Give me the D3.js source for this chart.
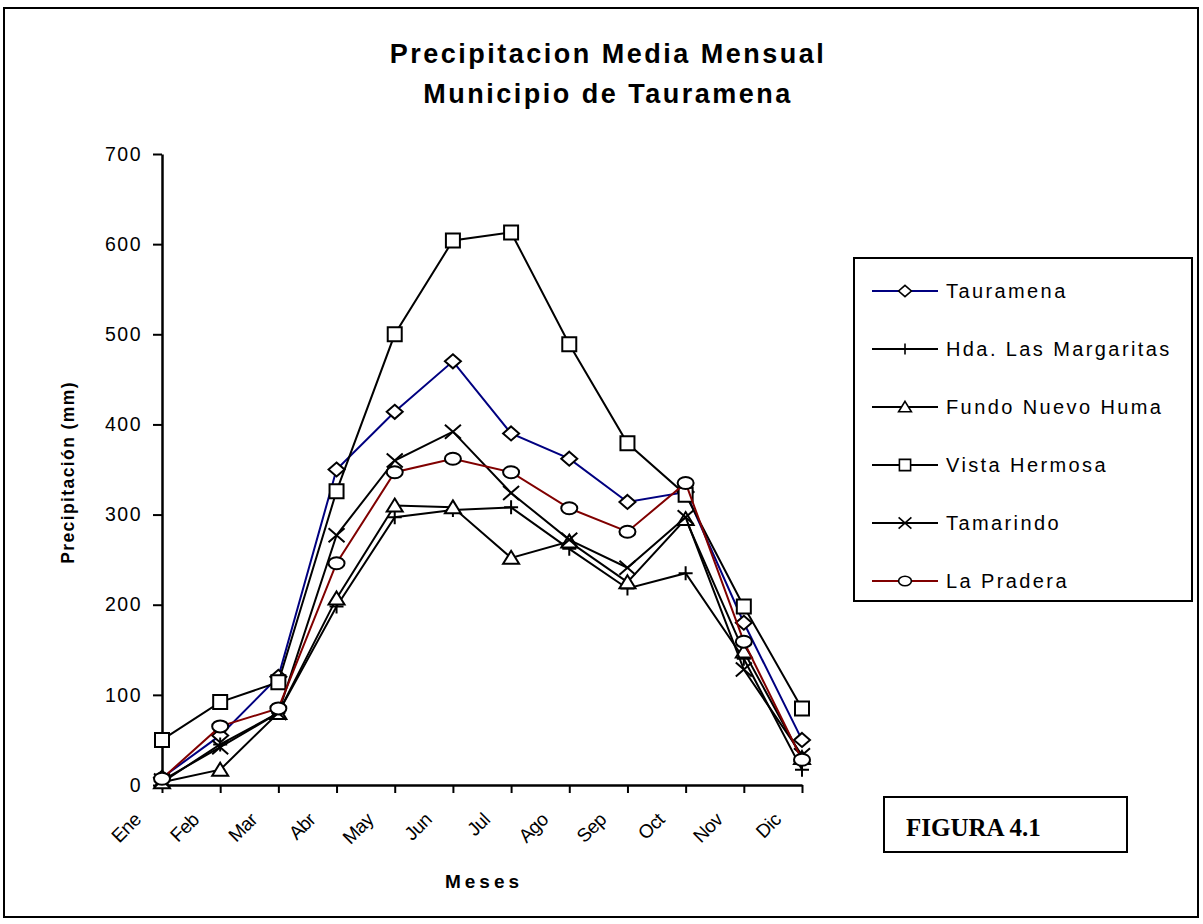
<!DOCTYPE html>
<html>
<head>
<meta charset="utf-8">
<script src="https://cdn.jsdelivr.net/npm/d3@7"></script>
<style>
  body { margin: 0; background: #fff; }
  svg { display: block; font-family: Arial, "Liberation Sans", sans-serif; }
</style>
</head>
<body>
<div id="chart"></div>
<script>
const months = ['Ene', 'Feb', 'Mar', 'Abr', 'May', 'Jun', 'Jul', 'Ago', 'Sep', 'Oct', 'Nov', 'Dic'];
const yTicks = [0, 100, 200, 300, 400, 500, 600, 700];

const tauramena = [8, 55, 120, 350, 414, 470, 390, 362, 314, 325, 180, 50];
const margaritas = [3, 45, 80, 198, 297, 305, 308, 262, 218, 235, 140, 17];
const fundoNuevoHuma = [3, 17, 80, 207, 310, 308, 252, 270, 225, 295, 148, 30];
const vistaHermosa = [50, 92, 114, 326, 500, 604, 613, 489, 379, 322, 198, 85];
const tamarindo = [5, 42, 80, 277, 360, 392, 324, 272, 241, 297, 128, 33];
const laPradera = [7, 65, 85, 246, 347, 362, 347, 307, 281, 335, 159, 28];

const seriesNames = ['Tauramena', 'Hda. Las Margaritas', 'Fundo Nuevo Huma', 'Vista Hermosa', 'Tamarindo', 'La Pradera'];
const seriesColors = ['#000080', '#000000', '#000000', '#000000', '#000000', '#800000'];
const seriesMarkers = ['diamond', 'plus', 'triangle', 'square', 'cross', 'circle'];

const width = 1203;
const height = 924;

const series = [tauramena, margaritas, fundoNuevoHuma, vistaHermosa, tamarindo, laPradera]
  .map((values, i) => ({
    name: seriesNames[i],
    color: seriesColors[i],
    marker: seriesMarkers[i],
    values: values.map((v, j) => ({ month: months[j], value: v })),
  }));

// marker shapes as path strings centred on 0,0
function markerPath(type) {
  switch (type) {
    case 'diamond': return 'M0,-7L8,0L0,7L-8,0Z';
    case 'square': return 'M-7,-7H7V7H-7Z';
    case 'triangle': return 'M0,-7L8,6H-8Z';
    case 'circle': return 'M-8,0A8,6 0 1,0 8,0A8,6 0 1,0 -8,0Z';
    case 'plus': return 'M-7,0H7M0,-7V7';
    case 'cross': return 'M-8,-7L8,7M-8,7L8,-7';
  }
}

function drawMarker(sel, type) {
  const filled = !(type === 'plus' || type === 'cross');
  sel.append('path')
    .attr('d', markerPath(type))
    .attr('fill', filled ? '#fff' : 'none')
    .attr('stroke', '#000')
    .attr('stroke-width', 2);
}

const svg = d3.select('#chart')
  .append('svg')
  .attr('width', width)
  .attr('height', height);

// outer frame
svg.append('rect')
  .attr('x', 4).attr('y', 8)
  .attr('width', 1194).attr('height', 909)
  .attr('fill', 'none')
  .attr('stroke', '#000')
  .attr('stroke-width', 2);

// title
const title = svg.append('text')
  .attr('text-anchor', 'middle')
  .attr('font-weight', 'bold')
  .attr('font-size', 27)
  .attr('letter-spacing', 2.5);
title.append('tspan').attr('x', 608).attr('y', 63).text('Precipitacion Media Mensual');
title.append('tspan').attr('x', 608).attr('y', 103).text('Municipio de Tauramena');

const plot = { left: 162, right: 802, top: 154, bottom: 785 };

const xScale = d3.scalePoint()
  .domain(months)
  .range([plot.left, plot.right]);

const yScale = d3.scaleLinear()
  .domain([0, 700])
  .range([plot.bottom, plot.top]);

// Y axis
const yAxis = svg.append('g')
  .attr('transform', `translate(${plot.left},0)`)
  .call(d3.axisLeft(yScale).tickValues(yTicks).tickSize(9).tickSizeOuter(0).tickPadding(11));
yAxis.select('.domain').attr('stroke-width', 2.5);
yAxis.selectAll('.tick line').attr('stroke-width', 2);
yAxis.selectAll('.tick text')
  .attr('font-size', 19.5)
  .attr('font-family', 'Arial, "Liberation Sans", sans-serif')
  .attr('letter-spacing', 1.5);

// X axis
const xAxis = svg.append('g')
  .attr('transform', `translate(0,${plot.bottom})`)
  .call(d3.axisBottom(xScale).tickSize(8).tickSizeOuter(0).tickFormat(''));
xAxis.select('.domain').attr('stroke-width', 2.5);
xAxis.selectAll('.tick line').attr('stroke-width', 2);

svg.append('g')
  .selectAll('text')
  .data(months)
  .join('text')
  .attr('transform', (d) => `translate(${xScale(d) - 20},${plot.bottom + 36}) rotate(-45)`)
  .attr('text-anchor', 'end')
  .attr('font-size', 19)
  .attr('letter-spacing', -0.5)
  .text((d) => d);

// axis titles
svg.append('text')
  .attr('transform', `translate(74,${(plot.top + plot.bottom) / 2 + 3}) rotate(-90)`)
  .attr('text-anchor', 'middle')
  .attr('font-weight', 'bold')
  .attr('font-size', 17.5)
  .attr('letter-spacing', 1.4)
  .text('Precipitación (mm)');

svg.append('text')
  .attr('x', 484)
  .attr('y', 888)
  .attr('text-anchor', 'middle')
  .attr('font-weight', 'bold')
  .attr('font-size', 19)
  .attr('letter-spacing', 4)
  .text('Meses');

// lines and markers, series drawn in order so later ones sit on top
const line = d3.line()
  .x((d) => xScale(d.month))
  .y((d) => yScale(d.value));

series.forEach((s) => {
  const g = svg.append('g').attr('class', 'series');
  g.append('path')
    .datum(s.values)
    .attr('d', line)
    .attr('fill', 'none')
    .attr('stroke', s.color)
    .attr('stroke-width', 2);

  g.selectAll('g.pt')
    .data(s.values)
    .join('g')
    .attr('class', 'pt')
    .attr('transform', (d) => `translate(${xScale(d.month)},${yScale(d.value)})`)
    .each(function () { drawMarker(d3.select(this), s.marker); });
});

// legend
const legend = svg.append('g');
legend.append('rect')
  .attr('x', 854).attr('y', 258)
  .attr('width', 338).attr('height', 343)
  .attr('fill', '#fff')
  .attr('stroke', '#000')
  .attr('stroke-width', 2);

const legendY = d3.scalePoint()
  .domain(seriesNames)
  .range([291, 581]);

series.forEach((s) => {
  const y = legendY(s.name);
  const item = legend.append('g');
  item.append('line')
    .attr('x1', 872).attr('x2', 938)
    .attr('y1', y).attr('y2', y)
    .attr('stroke', s.color)
    .attr('stroke-width', 2);
  const m = item.append('g').attr('transform', `translate(905,${y}) scale(0.8)`);
  drawMarker(m, s.marker);
  item.append('text')
    .attr('x', 946)
    .attr('y', y + 7)
    .attr('font-size', 20)
    .attr('letter-spacing', 2.4)
    .text(s.name);
});

// figure tag
svg.append('rect')
  .attr('x', 884).attr('y', 797)
  .attr('width', 243).attr('height', 55)
  .attr('fill', '#fff')
  .attr('stroke', '#000')
  .attr('stroke-width', 2);
svg.append('text')
  .attr('x', 906)
  .attr('y', 836)
  .attr('font-family', '"Liberation Serif", "Times New Roman", serif')
  .attr('font-weight', 'bold')
  .attr('font-size', 25)
  .text('FIGURA 4.1');
</script>
</body>
</html>
